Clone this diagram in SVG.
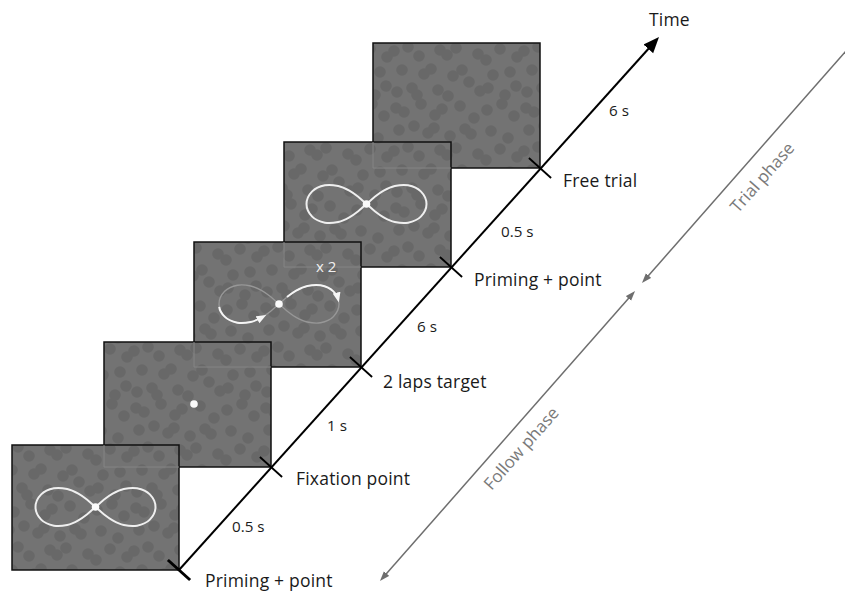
<svg xmlns="http://www.w3.org/2000/svg" width="845" height="591" viewBox="0 0 845 591">
<style>
.panel{fill:url(#tex);stroke:#111;stroke-width:1.5}
.ghost{fill:none;stroke:#858585;stroke-width:1}
.inf{fill:none;stroke:#efefef;stroke-width:2}
.dot{fill:#fafafa}
.lbl{font-family:"Open Sans","Noto Sans",sans-serif;font-size:17.5px;letter-spacing:0.2px;fill:#1a1a1a}
.dur{font-family:"Open Sans","Noto Sans",sans-serif;font-size:15.2px;fill:#1a1a1a}
.phase{font-family:"Open Sans","Noto Sans",sans-serif;font-size:17px;fill:#7a7a7a}
.axis{stroke:#000;stroke-width:2;fill:none}
.tick{stroke:#000;stroke-width:1.8}
.ph{stroke:#6e6e6e;stroke-width:1.5;fill:none}
</style>
<defs>
<pattern id="tex" patternUnits="userSpaceOnUse" width="130" height="100">
<rect width="130" height="100" fill="#737373"/>
<g fill="#686868">
<circle cx="6" cy="8" r="5.8"/><circle cx="6" cy="108" r="5.8"/><circle cx="14" cy="12" r="5.8"/><circle cx="31" cy="4" r="5.8"/><circle cx="31" cy="104" r="5.8"/><circle cx="45" cy="15" r="5.8"/><circle cx="52" cy="9" r="5.8"/><circle cx="70" cy="6" r="5.8"/><circle cx="84" cy="18" r="5.8"/><circle cx="97" cy="10" r="5.8"/><circle cx="112" cy="4" r="5.8"/><circle cx="112" cy="104" r="5.8"/><circle cx="124" cy="16" r="5.8"/>
<circle cx="9" cy="30" r="5.8"/><circle cx="24" cy="26" r="5.8"/><circle cx="38" cy="33" r="5.8"/><circle cx="44" cy="28" r="5.8"/><circle cx="60" cy="36" r="5.8"/><circle cx="75" cy="29" r="5.8"/><circle cx="81" cy="34" r="5.8"/><circle cx="101" cy="31" r="5.8"/><circle cx="118" cy="38" r="5.8"/>
<circle cx="4" cy="51" r="5.8"/><circle cx="134" cy="51" r="5.8"/><circle cx="18" cy="47" r="5.8"/><circle cx="29" cy="56" r="5.8"/><circle cx="50" cy="50" r="5.8"/><circle cx="57" cy="55" r="5.8"/><circle cx="66" cy="48" r="5.8"/><circle cx="88" cy="54" r="5.8"/><circle cx="96" cy="60" r="5.8"/><circle cx="110" cy="49" r="5.8"/><circle cx="127" cy="57" r="5.8"/><circle cx="-3" cy="57" r="5.8"/>
<circle cx="12" cy="70" r="5.8"/><circle cx="34" cy="74" r="5.8"/><circle cx="41" cy="69" r="5.8"/><circle cx="63" cy="76" r="5.8"/><circle cx="72" cy="70" r="5.8"/><circle cx="79" cy="82" r="5.8"/><circle cx="103" cy="75" r="5.8"/><circle cx="120" cy="72" r="5.8"/>
<circle cx="7" cy="92" r="5.8"/><circle cx="22" cy="88" r="5.8"/><circle cx="27" cy="95" r="5.8"/><circle cx="27" cy="-5" r="5.8"/><circle cx="48" cy="90" r="5.8"/><circle cx="58" cy="96" r="5.8"/><circle cx="58" cy="-4" r="5.8"/><circle cx="90" cy="91" r="5.8"/><circle cx="98" cy="88" r="5.8"/><circle cx="115" cy="95" r="5.8"/><circle cx="115" cy="-5" r="5.8"/><circle cx="126" cy="86" r="5.8"/><circle cx="-4" cy="86" r="5.8"/>
</g>
</pattern>
<path id="lem" d="M60,0 C60,4.22 57.39,9.53 54.32,12.65 C51.25,15.77 45.91,17.82 41.57,18.71 C37.23,19.6 32.35,18.89 28.28,18 C24.21,17.11 20.52,15.2 17.14,13.36 C13.77,11.52 10.89,9.21 8.03,6.98 C5.17,4.75 2.68,2.33 0,0 C-2.68,-2.33 -5.17,-4.75 -8.03,-6.98 C-10.89,-9.21 -13.77,-11.52 -17.14,-13.36 C-20.52,-15.2 -24.21,-17.11 -28.28,-18 C-32.35,-18.89 -37.23,-19.6 -41.57,-18.71 C-45.91,-17.82 -51.25,-15.77 -54.32,-12.65 C-57.39,-9.53 -60,-4.22 -60,0 C-60,4.22 -57.39,9.53 -54.32,12.65 C-51.25,15.77 -45.91,17.82 -41.57,18.71 C-37.23,19.6 -32.35,18.89 -28.28,18 C-24.21,17.11 -20.52,15.2 -17.14,13.36 C-13.77,11.52 -10.89,9.21 -8.03,6.98 C-5.17,4.75 -2.68,2.33 0,0 C2.68,-2.33 5.17,-4.75 8.03,-6.98 C10.89,-9.21 13.77,-11.52 17.14,-13.36 C20.52,-15.2 24.21,-17.11 28.28,-18 C32.35,-18.89 37.23,-19.6 41.57,-18.71 C45.91,-17.82 51.25,-15.77 54.32,-12.65 C57.39,-9.53 60,-4.22 60,0 Z"/>
<marker id="ahBlack" markerUnits="userSpaceOnUse" markerWidth="18" markerHeight="14" refX="10" refY="6.5" orient="auto">
<path d="M0,0 L16,6.5 L0,13 Z" fill="#000"/>
</marker>
<marker id="ahGray" markerUnits="userSpaceOnUse" markerWidth="12" markerHeight="8" refX="6" refY="3.5" orient="auto-start-reverse">
<path d="M0,0 L10,3.5 L0,7 Z" fill="#6e6e6e"/>
</marker>
<marker id="ahWhite" markerUnits="userSpaceOnUse" markerWidth="12" markerHeight="9" refX="5" refY="4" orient="auto">
<path d="M0,0 L10,4 L0,8 Z" fill="#f5f5f5"/>
</marker>
</defs>
<rect width="845" height="591" fill="#fff"/>

<g id="panel5">
<rect class="panel" x="373" y="43" width="167" height="125"/>
</g>
<g id="panel4">
<rect class="panel" x="284" y="142" width="167" height="125"/>
<path class="ghost" d="M373,142 V168 H451"/>
<use href="#lem" class="inf" transform="translate(366.5,204)"/>
<circle class="dot" cx="366.5" cy="204" r="3.8"/>
</g>
<g id="panel3">
<rect class="panel" x="194" y="242" width="167" height="125"/>
<path class="ghost" d="M284,242 V267 H361"/>
<use href="#lem" fill="none" stroke="#979797" stroke-width="1.4" transform="translate(279,304)"/>
<g transform="translate(279,304)" fill="none" stroke="#f5f5f5" stroke-width="2">
<path marker-end="url(#ahWhite)" d="M-59.76,2.81 C-59.46,6.2 -56.78,10.16 -54.32,12.65 C-51.25,15.77 -45.91,17.82 -41.57,18.71 C-37.23,19.6 -32.35,18.89 -28.28,18 C-24.21,17.11 -20.52,15.2 -17.14,13.36"/>
<path marker-end="url(#ahWhite)" d="M8.03,-6.98 C10.89,-9.21 13.77,-11.52 17.14,-13.36 C20.52,-15.2 24.21,-17.11 28.28,-18 C32.35,-18.89 37.23,-19.6 41.57,-18.71 C45.91,-17.82 51.25,-15.77 54.32,-12.65 C55.96,-10.99 58.18,-8.54 58.68,-6.44"/>
</g>
<circle class="dot" cx="279" cy="304" r="3.8"/>
<text x="316" y="272" font-family="'Open Sans','Noto Sans',sans-serif" font-size="15" fill="#f0f0f0">x 2</text>
</g>
<g id="panel2">
<rect class="panel" x="104" y="342" width="167" height="125"/>
<path class="ghost" d="M194,342 V367 H271"/>
<circle class="dot" cx="194" cy="404" r="3.8"/>
</g>
<g id="panel1">
<rect class="panel" x="12" y="445" width="167" height="125"/>
<path class="ghost" d="M104,445 V467 H179"/>
<use href="#lem" class="inf" transform="translate(95.5,507)"/>
<circle class="dot" cx="95.5" cy="507" r="3.8"/>
</g>

<g id="connectors">
<line class="axis" x1="179" y1="570" x2="655" y2="41.5" marker-end="url(#ahBlack)"/>
<line x1="167.9" y1="560" x2="190.1" y2="580" stroke="#000" stroke-width="3"/>
<line class="tick" x1="259.9" y1="457" x2="282.1" y2="477"/>
<line class="tick" x1="349.9" y1="357" x2="372.1" y2="377"/>
<line class="tick" x1="439.9" y1="257" x2="462.1" y2="277"/>
<line class="tick" x1="528.9" y1="158" x2="551.1" y2="178"/>
<line class="ph" x1="860" y1="35" x2="644.6" y2="280" marker-end="url(#ahGray)"/>
<line class="ph" x1="632.4" y1="294" x2="382.6" y2="578" marker-start="url(#ahGray)" marker-end="url(#ahGray)"/>
</g>

<g id="labels">
<text class="lbl" x="649" y="26" font-size="16.5">Time</text>
<text class="dur" x="609" y="116">6 s</text>
<text class="lbl" x="563" y="187">Free trial</text>
<text class="dur" x="501" y="237">0.5 s</text>
<text class="lbl" x="474" y="286">Priming + point</text>
<text class="dur" x="417" y="332">6 s</text>
<text class="lbl" x="383" y="388">2 laps target</text>
<text class="dur" x="327" y="431">1 s</text>
<text class="lbl" x="296" y="485">Fixation point</text>
<text class="dur" x="232" y="532">0.5 s</text>
<text class="lbl" x="205" y="587">Priming + point</text>
<text class="phase" text-anchor="middle" transform="translate(763,178) rotate(-48.6)" y="5">Trial phase</text>
<text class="phase" text-anchor="middle" transform="translate(522,449) rotate(-48.6)" y="5">Follow phase</text>
</g>
</svg>
